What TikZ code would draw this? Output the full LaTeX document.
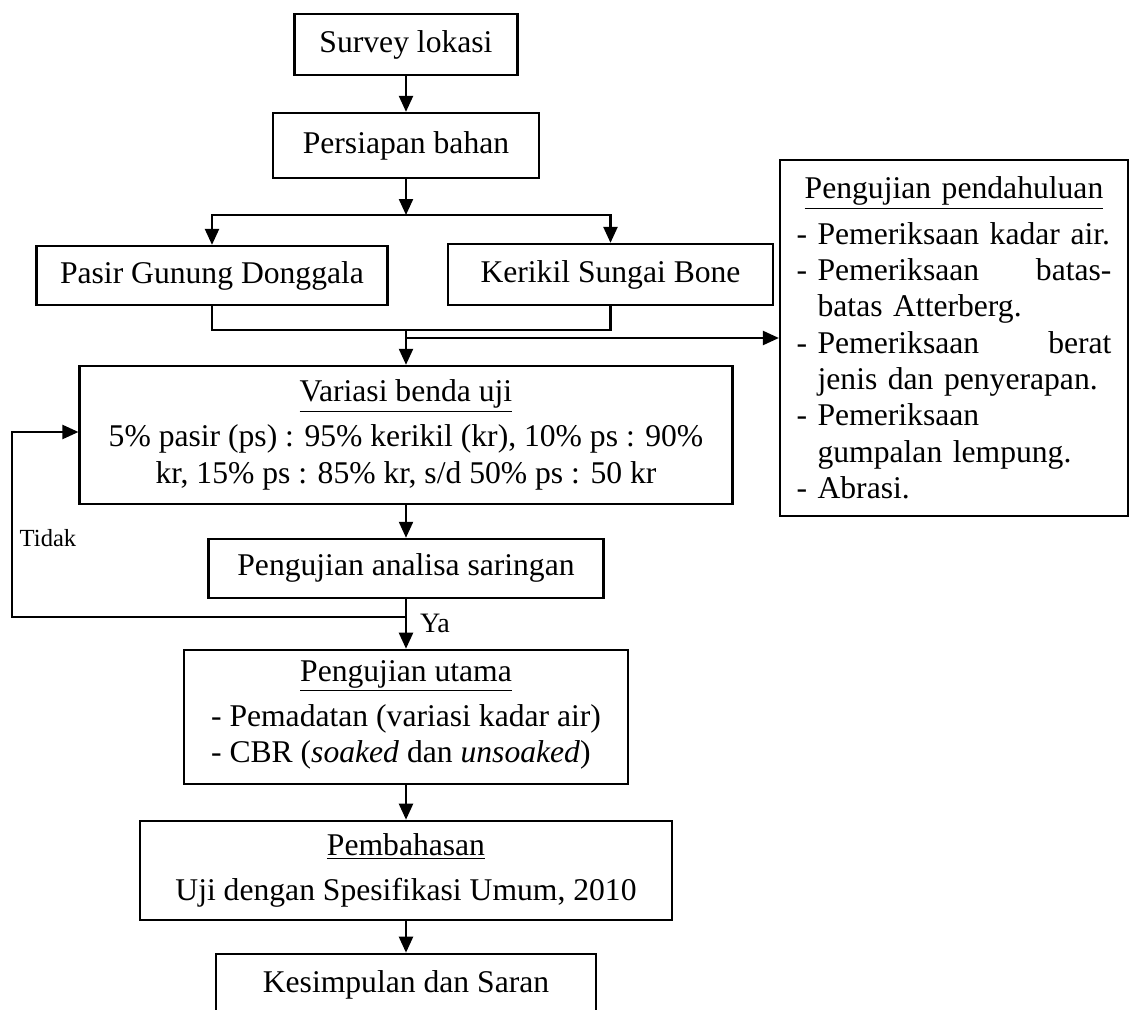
\documentclass[tikz,border=0pt]{standalone}
\usepackage{fontspec}
\setmainfont{Liberation Serif}
\usetikzlibrary{arrows.meta,positioning}

\begin{document}
\begin{tikzpicture}[
    ->, % semua garis berpanah
    > = {Triangle[length=0.32cm,width=0.28cm]}, % ujung panah segitiga penuh
    line width = 1.3pt, % tebal garis
    x = 0.02cm, y = -0.02cm, % satu satuan = satu piksel, y ke bawah
    font = \fontsize{18}{20.7}\selectfont
  ]

  \tikzstyle{kotak}=[rectangle,draw=black,align=center,inner sep=2pt]

  \useasboundingbox (0,0) rectangle (1130,1010);

  \node[kotak, minimum width=4.46cm, minimum height=1.22cm] (survey) at (406,44.5) {Survey lokasi};
  \node[kotak, minimum width=5.32cm, minimum height=1.30cm] (persiapan) [below of=survey, node distance=2.02cm] {Persiapan bahan};
  \node[kotak, minimum width=7.02cm, minimum height=1.18cm] (pasir) at (212,275.5) {Pasir Gunung Donggala};
  \node[kotak, minimum width=6.50cm, minimum height=1.22cm] (kerikil) at (610.5,274.5) {Kerikil Sungai Bone};
  \node[kotak, minimum width=13.06cm, minimum height=2.76cm] (variasi) [below of=persiapan, node distance=5.79cm]
    {\underline{Variasi benda uji}\\[5pt]
     5\% pasir (ps) : 95\% kerikil (kr), 10\% ps : 90\%\\
     kr, 15\% ps : 85\% kr, s/d 50\% ps : 50 kr};
  \node[kotak, minimum width=7.90cm, minimum height=1.18cm] (analisa) [below of=variasi, node distance=2.67cm] {Pengujian analisa saringan};
  \node[kotak, minimum width=8.88cm, minimum height=2.68cm] (utama) [below of=analisa, node distance=2.97cm]
    {\underline{Pengujian utama}\\[5pt]
     \begin{tabular}[t]{@{}l@{}}
       - Pemadatan (variasi kadar air)\\
       - CBR (\textit{soaked} dan \textit{unsoaked})
     \end{tabular}};
  \node[kotak, minimum width=10.64cm, minimum height=1.98cm] (pembahasan) [below of=utama, node distance=3.07cm]
    {\underline{Pembahasan}\\[5pt]
     Uji dengan Spesifikasi Umum, 2010};
  \node[kotak, minimum width=7.60cm, minimum height=1.24cm] (kesimpulan) [below of=pembahasan, node distance=2.29cm] {Kesimpulan dan Saran};

  \node[kotak, align=left, text width=6.3cm, minimum width=6.96cm, minimum height=7.12cm] (pendahuluan) at (954,338)
    {\makebox[\hsize]{\underline{Pengujian pendahuluan}}\\[5pt]
     - Pemeriksaan kadar air.\\
     - Pemeriksaan\hfill batas-\\
     \phantom{- }batas Atterberg.\\
     - Pemeriksaan\hfill berat\\
     \phantom{- }jenis dan penyerapan.\\
     - Pemeriksaan\\
     \phantom{- }gumpalan lempung.\\
     - Abrasi.};

  \node[font=\fontsize{14}{16}\selectfont] (tidak) at (48,538) {Tidak};
  \node[anchor=west, font=\fontsize{16}{18}\selectfont] (ya) at (413,623) {Ya};

  \coordinate (cabang1) at (406,215);
  \coordinate (gabung) at (406,330);
  \coordinate (cabang2) at (406,338);
  \coordinate (balik) at (406,617);
  \coordinate (kiri) at (12,432);

  \path (survey) edge (persiapan);
  \draw (persiapan) -- (cabang1);
  \draw (cabang1) -| (pasir);
  \draw (cabang1) -| (kerikil);
  \draw[-] (pasir) |- (gabung);
  \draw[-] (kerikil) |- (gabung);
  \draw (gabung) -- (variasi);
  \draw (cabang2) -- (cabang2 -| pendahuluan.west);
  \path (variasi) edge (analisa);
  \path (analisa) edge (utama);
  \draw (balik) -- (balik -| kiri) -- (kiri) -- (kiri -| variasi.west);
  \path (utama) edge (pembahasan);
  \path (pembahasan) edge (kesimpulan);

\end{tikzpicture}
\end{document}
